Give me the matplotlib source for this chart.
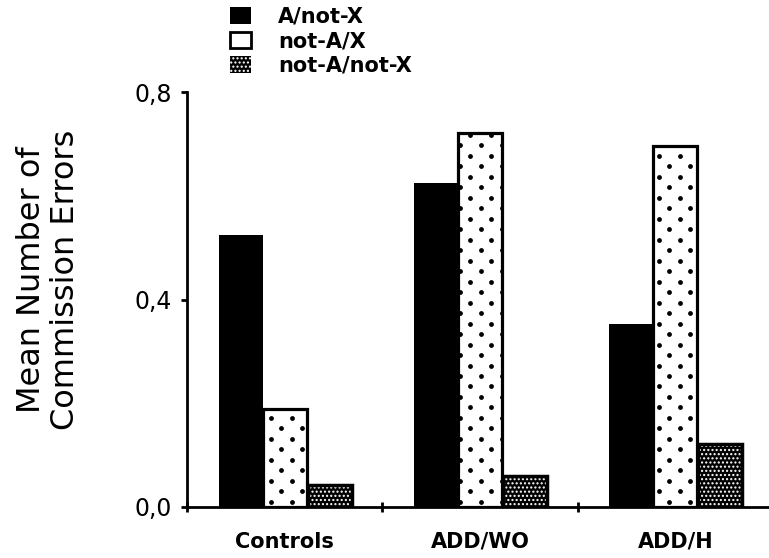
import numpy as np
import matplotlib
matplotlib.use("Agg")
import matplotlib.pyplot as plt
from matplotlib.patches import Patch

# Mean commission errors per group and trial type
groups = ["Controls", "ADD/WO", "ADD/H"]
series_names = ["A/not-X", "not-A/X", "not-A/not-X"]
a_not_x = [0.524, 0.624, 0.353]
not_a_x = [0.189, 0.721, 0.696]
not_a_not_x = [0.042, 0.060, 0.121]
y_ticks = [0.0, 0.4, 0.8]
y_tick_labels = ["0,0", "0,4", "0,8"]

plt.rcParams['font.family'] = ['DejaVu Sans']

fig = plt.figure(figsize=(7.69, 5.58), dpi=100)
ax = fig.add_axes([0.2432, 0.0914, 0.7568, 0.7437])

x = np.arange(len(groups))
width = 0.225
offsets = [-0.225, 0.0, 0.23]

# solid black bars
ax.bar(x + offsets[0], a_not_x, width, color='black', linewidth=0, zorder=2)

# white bars with sparse staggered dots
dot_bars = ax.bar(x + offsets[1], not_a_x, width, facecolor='white',
                  edgecolor='black', linewidth=2.3, zorder=2)
dx, dy = 0.1074, 0.0202
rows = np.arange(0, 0.82, dy)
for bar in dot_bars:
    pts = []
    for i, yy in enumerate(rows):
        shift = dx / 2 if i % 2 else 0.0
        for xx in np.arange(-0.5 + shift, 2.6, dx):
            pts.append((xx, yy + dy / 2))
    pts = np.array(pts)
    sc = ax.scatter(pts[:, 0], pts[:, 1], s=12, color='black',
                    linewidths=0, zorder=2.5)
    sc.set_clip_path(bar)

# dark bars with fine white dot texture
ax.bar(x + offsets[2], not_a_not_x, width, color='black', edgecolor='white',
       hatch='....', linewidth=0, zorder=2)
ax.bar(x + offsets[2], not_a_not_x, width, facecolor='none', edgecolor='black',
       linewidth=2.5, zorder=3)

ax.set_xlim(-0.5, 2.48)
ax.set_ylim(0, 0.8)

for side in ['top', 'right']:
    ax.spines[side].set_visible(False)
for side in ['left', 'bottom']:
    ax.spines[side].set_linewidth(2.0)

ax.set_yticks(y_ticks)
ax.set_yticklabels(y_tick_labels, fontsize=17)
ax.tick_params(axis='y', direction='out', length=4, width=2, pad=7)

ax.set_xticks(x)
ax.set_xticklabels(groups, fontsize=15, fontweight='bold')
ax.set_xticks(np.arange(-0.5, 2.0, 1.0), minor=True)
ax.tick_params(axis='x', which='major', length=0, pad=18)
ax.tick_params(axis='x', which='minor', direction='inout', length=7, width=2)

ax.set_ylabel("Mean Number of\nCommission Errors", fontsize=23, linespacing=1.1)
ax.yaxis.label.set_verticalalignment('center')
ax.yaxis.set_label_coords(-0.238, 0.547)

handles = [
    Patch(facecolor='black', edgecolor='black', linewidth=0),
    Patch(facecolor='white', edgecolor='black', linewidth=2),
    Patch(facecolor='black', edgecolor='white', hatch='....', linewidth=0),
]
fig.legend(handles, series_names, loc='upper left',
           bbox_to_anchor=(0.28, 1.014), frameon=False,
           prop={'size': 15, 'weight': 'bold'},
           handlelength=1.0, handleheight=0.85, handletextpad=1.3,
           labelspacing=0.22, borderaxespad=0.3)

fig.savefig("out.png", dpi=100, facecolor='white')
